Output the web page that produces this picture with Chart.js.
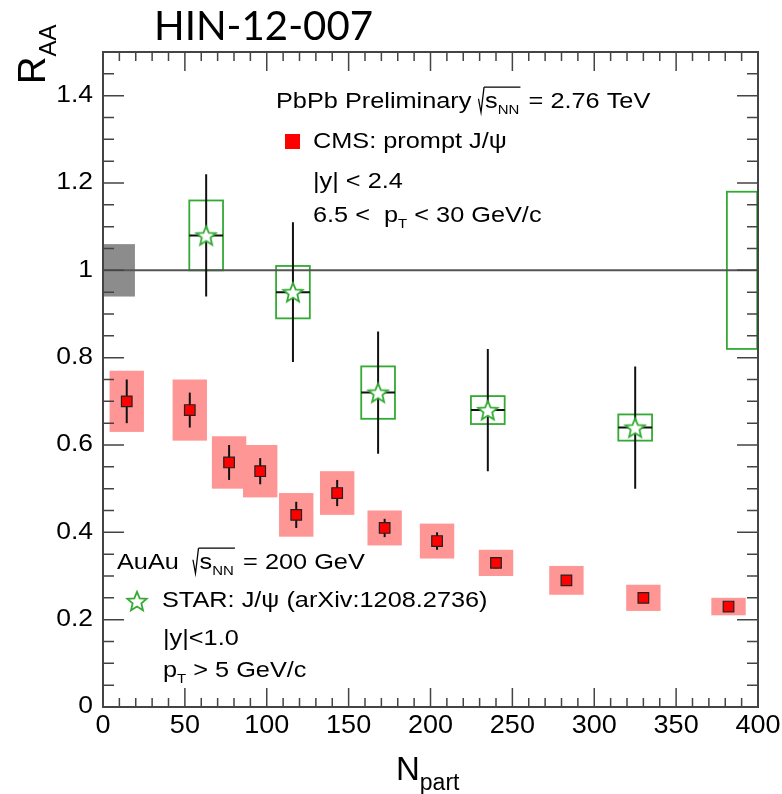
<!DOCTYPE html>
<html>
<head>
<meta charset="utf-8">
<script src="https://cdn.jsdelivr.net/npm/chart.js@4.4.1/dist/chart.umd.min.js"></script>
<style>
  html, body { margin: 0; padding: 0; background: #fff; }
  #wrap { width: 782px; height: 794px; }
</style>
</head>
<body>
<div id="wrap"><canvas id="raa" width="782" height="794"></canvas></div>
<script>
// --- data ---
const cmsNpart = [14.5, 53, 77, 96, 118, 143, 172, 204, 240, 283, 330, 382];
const cmsRaa   = [0.70, 0.68, 0.56, 0.54, 0.44, 0.49, 0.41, 0.38, 0.33, 0.29, 0.25, 0.23];
const cmsStat  = [0.05, 0.04, 0.04, 0.03, 0.03, 0.03, 0.021, 0.02, 0.012, 0.01, 0.01, 0.01];
const cmsSyst  = [0.07, 0.07, 0.06, 0.06, 0.05, 0.05, 0.04, 0.04, 0.03, 0.033, 0.03, 0.02];
const cmsBoxHalf = 10.5;           // half width of syst boxes, in Npart
const cmsGlobal = [0, 19.5, 0.06]; // x from, x to, +- around 1

const starNpart = [63, 116, 168, 235, 325];
const starRaa   = [1.08, 0.95, 0.72, 0.68, 0.64];
const starStat  = [0.14, 0.16, 0.14, 0.14, 0.14];
const starSyst  = [0.08, 0.06, 0.06, 0.032, 0.03];
const starBoxHalf = 10.3;
const starGlobal = [381, 399.5, 0.18];

const xTicks = [0, 50, 100, 150, 200, 250, 300, 350, 400];
const yTicks = [0, 0.2, 0.4, 0.6, 0.8, 1, 1.2, 1.4];

const RED = '#ff0000', PINK = 'rgb(255,150,150)', GREEN = '#33aa33';
const FONT = '"Liberation Sans", Arial, sans-serif';
const SX = 1.15; // the original figure is a bit wider than tall

// star marker (open, white fill) as an image for pointStyle
function makeStar(size, lw) {
    const c = document.createElement('canvas');
    c.width = size; c.height = size;
    const g = c.getContext('2d');
    const r = size / 2 - lw, ri = r * 0.45, cx = size / 2, cy = size / 2 + 1;
    g.beginPath();
    for (let i = 0; i < 10; i++) {
        const a = -Math.PI / 2 + i * Math.PI / 5;
        const rr = i % 2 ? ri : r;
        g.lineTo(cx + rr * Math.cos(a), cy + rr * Math.sin(a));
    }
    g.closePath();
    g.fillStyle = '#fff'; g.fill();
    g.lineWidth = lw; g.strokeStyle = GREEN; g.stroke();
    return c;
}
const starImg = makeStar(24, 1.8);

// text with subscripts and a root sign, optionally stretched / rotated
function richText(ctx, x, y, parts, size, opt) {
    opt = opt || {};
    ctx.save();
    ctx.translate(x, y);
    if (opt.rot) ctx.rotate(opt.rot);
    ctx.scale(opt.sx || SX, 1);
    ctx.fillStyle = '#000'; ctx.strokeStyle = '#000';
    ctx.textBaseline = 'alphabetic'; ctx.textAlign = 'left';
    let cx = 0, rootX = null;
    for (const p of parts) {
        const kind = p[0], s = p[1];
        if (kind === 'n') {
            ctx.font = size + 'px ' + FONT;
            ctx.fillText(s, cx, 0);
            cx += ctx.measureText(s).width;
        } else if (kind === 'sub') {
            const ss = Math.round(size * (opt.subScale || 0.6));
            ctx.font = ss + 'px ' + FONT;
            ctx.fillText(s, cx, size * (opt.subDrop || 0.28));
            cx += ctx.measureText(s).width;
        } else if (kind === 'root') {
            ctx.lineWidth = 1.1;
            ctx.beginPath();
            ctx.moveTo(cx, -size * 0.42);
            ctx.lineTo(cx + size * 0.1, size * 0.2);
            ctx.lineTo(cx + size * 0.22, -size * 0.95);
            ctx.stroke();
            rootX = cx + size * 0.22;
            cx += size * 0.26;
        } else if (kind === 'endroot') {
            ctx.lineWidth = 1.1;
            ctx.beginPath();
            ctx.moveTo(rootX, -size * 0.95);
            ctx.lineTo(cx + 1, -size * 0.95);
            ctx.stroke();
            cx += 2;
        }
    }
    ctx.restore();
}

const rootPlot = {
    id: 'rootPlot',
    beforeDatasetsDraw(chart) {
        const { ctx, chartArea: a, scales: { x, y } } = chart;
        ctx.save();
        ctx.beginPath(); ctx.rect(a.left, a.top, a.right - a.left, a.bottom - a.top); ctx.clip();
        // global uncertainty boxes
        ctx.fillStyle = '#8c8c8c';
        ctx.fillRect(x.getPixelForValue(cmsGlobal[0]), y.getPixelForValue(1 + cmsGlobal[2]),
            x.getPixelForValue(cmsGlobal[1]) - x.getPixelForValue(cmsGlobal[0]),
            y.getPixelForValue(1 - cmsGlobal[2]) - y.getPixelForValue(1 + cmsGlobal[2]));
        // CMS syst boxes
        ctx.fillStyle = PINK;
        cmsNpart.forEach((n, i) => {
            const x0 = x.getPixelForValue(n - cmsBoxHalf), x1 = x.getPixelForValue(n + cmsBoxHalf);
            const y0 = y.getPixelForValue(cmsRaa[i] + cmsSyst[i]), y1 = y.getPixelForValue(cmsRaa[i] - cmsSyst[i]);
            ctx.fillRect(x0, y0, x1 - x0, y1 - y0);
        });
        // STAR syst boxes
        ctx.strokeStyle = GREEN; ctx.lineWidth = 1.8;
        starNpart.forEach((n, i) => {
            const x0 = x.getPixelForValue(n - starBoxHalf), x1 = x.getPixelForValue(n + starBoxHalf);
            const y0 = y.getPixelForValue(starRaa[i] + starSyst[i]), y1 = y.getPixelForValue(starRaa[i] - starSyst[i]);
            ctx.strokeRect(x0, y0, x1 - x0, y1 - y0);
        });
        const gx0 = x.getPixelForValue(starGlobal[0]), gx1 = x.getPixelForValue(starGlobal[1]);
        ctx.strokeRect(gx0, y.getPixelForValue(1 + starGlobal[2]), gx1 - gx0,
            y.getPixelForValue(1 - starGlobal[2]) - y.getPixelForValue(1 + starGlobal[2]));
        // unity line
        ctx.strokeStyle = '#555'; ctx.lineWidth = 2;
        ctx.beginPath();
        ctx.moveTo(a.left, y.getPixelForValue(1)); ctx.lineTo(a.right, y.getPixelForValue(1));
        ctx.stroke();
        // error bars
        ctx.strokeStyle = '#111'; ctx.lineWidth = 2;
        cmsNpart.forEach((n, i) => {
            const px = x.getPixelForValue(n);
            ctx.beginPath();
            ctx.moveTo(px, y.getPixelForValue(cmsRaa[i] + cmsStat[i]));
            ctx.lineTo(px, y.getPixelForValue(cmsRaa[i] - cmsStat[i]));
            ctx.stroke();
        });
        starNpart.forEach((n, i) => {
            const px = x.getPixelForValue(n), py = y.getPixelForValue(starRaa[i]);
            ctx.beginPath();
            ctx.moveTo(px, y.getPixelForValue(starRaa[i] + starStat[i]));
            ctx.lineTo(px, y.getPixelForValue(starRaa[i] - starStat[i]));
            ctx.moveTo(x.getPixelForValue(n - starBoxHalf), py);
            ctx.lineTo(x.getPixelForValue(n + starBoxHalf), py);
            ctx.stroke();
        });
        ctx.restore();
    },
    afterDraw(chart) {
        const { ctx, chartArea: a, scales: { x, y } } = chart;
        ctx.save();
        // frame + inward ticks on all four sides
        ctx.strokeStyle = '#444'; ctx.lineWidth = 2;
        ctx.strokeRect(a.left, a.top, a.right - a.left, a.bottom - a.top);
        ctx.lineWidth = 1.5;
        ctx.beginPath();
        for (let v = 0; v <= 400; v += 10) {
            const px = x.getPixelForValue(v), len = v % 50 === 0 ? 19 : 9;
            ctx.moveTo(px, a.bottom); ctx.lineTo(px, a.bottom - len);
            ctx.moveTo(px, a.top); ctx.lineTo(px, a.top + len);
        }
        for (let k = 0; k <= 30; k++) {
            const py = y.getPixelForValue(k * 0.05), len = k % 4 === 0 ? 21 : 11;
            ctx.moveTo(a.left, py); ctx.lineTo(a.left + len, py);
            ctx.moveTo(a.right, py); ctx.lineTo(a.right - len, py);
        }
        ctx.stroke();

        // tick labels
        ctx.fillStyle = '#000';
        ctx.textBaseline = 'middle';
        ctx.font = '23px ' + FONT;
        yTicks.forEach(v => {
            const s = String(Math.round(v * 10) / 10);
            ctx.save();
            ctx.translate(a.left - 10, y.getPixelForValue(v));
            ctx.scale(SX, 1);
            ctx.textAlign = 'right';
            ctx.fillText(s, 0, 0);
            ctx.restore();
        });
        ctx.font = '25px ' + FONT;
        xTicks.forEach(v => {
            ctx.save();
            ctx.translate(x.getPixelForValue(v), a.bottom + 19);
            ctx.scale(1.08, 1);
            ctx.textAlign = 'center';
            ctx.fillText(String(v), 0, 0);
            ctx.restore();
        });

        // axis titles
        richText(ctx, 396, 780, [['n', 'N'], ['sub', 'part']], 33, { sx: 1.0, subScale: 0.7, subDrop: 0.3 });
        richText(ctx, 45, 84, [['n', 'R'], ['sub', 'AA']], 38, { sx: 1.0, rot: -Math.PI / 2, subScale: 0.62, subDrop: 0.3 });

        // figure label
        ctx.save();
        ctx.font = '40px Lato, "Open Sans", sans-serif';
        ctx.textBaseline = 'alphabetic'; ctx.textAlign = 'left';
        const w = ctx.measureText('HIN-12-007').width;
        ctx.translate(154, 40);
        ctx.scale(219 / w, 1);
        ctx.fillText('HIN-12-007', 0, 0);
        ctx.restore();

        // CMS block
        const fs = 22;
        richText(ctx, 276, 108, [['n', 'PbPb Preliminary '], ['root'], ['n', 's'], ['sub', 'NN'], ['endroot'], ['n', ' = 2.76 TeV']], fs);
        ctx.fillStyle = RED;
        ctx.fillRect(285, 134, 15, 15);
        richText(ctx, 313, 148, [['n', 'CMS: prompt J/\u03c8']], fs);
        richText(ctx, 313, 188, [['n', '|y| < 2.4']], fs);
        richText(ctx, 313, 222, [['n', '6.5 <  p'], ['sub', 'T'], ['n', ' < 30 GeV/c']], fs);

        // STAR block
        richText(ctx, 117, 569, [['n', 'AuAu  '], ['root'], ['n', 's'], ['sub', 'NN'], ['endroot'], ['n', ' = 200 GeV']], fs);
        ctx.drawImage(starImg, 137 - 12, 601 - 12);
        richText(ctx, 162, 607, [['n', 'STAR: J/\u03c8 (arXiv:1208.2736)']], fs);
        richText(ctx, 163, 645, [['n', '|y|<1.0']], fs);
        richText(ctx, 163, 677, [['n', 'p'], ['sub', 'T'], ['n', ' > 5 GeV/c']], fs);
        ctx.restore();
    }
};

new Chart(document.getElementById('raa'), {
    type: 'scatter',
    data: {
        datasets: [
            {
                label: 'CMS: prompt J/psi',
                data: cmsNpart.map((n, i) => ({ x: n, y: cmsRaa[i] })),
                pointStyle: 'rect',
                pointRadius: 7.5,
                backgroundColor: RED,
                borderColor: '#222',
                borderWidth: 1.2,
            },
            {
                label: 'STAR: J/psi',
                data: starNpart.map((n, i) => ({ x: n, y: starRaa[i] })),
                pointStyle: starImg,
                pointRadius: 12,
            }
        ]
    },
    options: {
        responsive: false,
        animation: false,
        layout: { padding: { top: 52, right: 24, left: 0, bottom: 0 } },
        scales: {
            x: {
                type: 'linear', min: 0, max: 400,
                grid: { display: false }, border: { display: false },
                ticks: { display: false, stepSize: 50 },
                afterFit(s) { s.height = 87; }
            },
            y: {
                type: 'linear', min: 0, max: 1.5,
                grid: { display: false }, border: { display: false },
                ticks: { display: false, stepSize: 0.2, includeBounds: false },
                afterFit(s) { s.width = 103; }
            }
        },
        plugins: { legend: { display: false }, tooltip: { enabled: false } }
    },
    plugins: [rootPlot]
});
</script>
</body>
</html>
